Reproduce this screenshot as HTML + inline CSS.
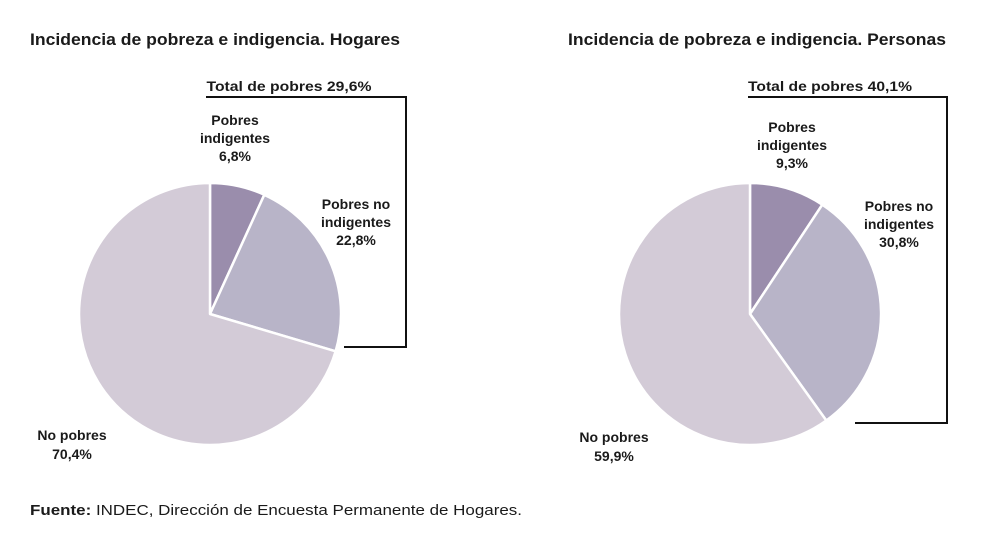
<!DOCTYPE html>
<html><head><meta charset="utf-8"><style>
body{margin:0;background:#fff;width:992px;height:543px;overflow:hidden}
svg text{font-family:"Liberation Sans",sans-serif;fill:#1a1a1a}
</style></head><body>
<svg width="992" height="543" viewBox="0 0 992 543" xmlns="http://www.w3.org/2000/svg">
<g font-weight="bold">
<text x="30" y="45" font-size="17" textLength="370" lengthAdjust="spacingAndGlyphs">Incidencia de pobreza e indigencia. Hogares</text>
<text x="568" y="45" font-size="17" textLength="378" lengthAdjust="spacingAndGlyphs">Incidencia de pobreza e indigencia. Personas</text>
</g>
<g stroke="#fff" stroke-width="2.5" stroke-linejoin="round">
<path d="M210,314 L210,183 A131,131 0 0 1 264.3,194.8 Z" fill="#9a8dac"/>
<path d="M210,314 L264.3,194.8 A131,131 0 0 1 335.6,351.3 Z" fill="#b8b4c8"/>
<path d="M210,314 L335.6,351.3 A131,131 0 1 1 210,183 Z" fill="#d3cbd7"/>
<path d="M750,314 L750,183 A131,131 0 0 1 822.3,204.7 Z" fill="#9a8dac"/>
<path d="M750,314 L822.3,204.7 A131,131 0 0 1 826.3,420.5 Z" fill="#b8b4c8"/>
<path d="M750,314 L826.3,420.5 A131,131 0 1 1 750,183 Z" fill="#d3cbd7"/>
</g>
<g fill="none" stroke="#111" stroke-width="2">
<polyline points="206,97 406,97 406,347 344,347"/>
<polyline points="748,97 947,97 947,423 855,423"/>
</g>
<g font-weight="bold" font-size="14" text-anchor="middle">
<text x="289" y="91" textLength="165" lengthAdjust="spacingAndGlyphs">Total de pobres 29,6%</text>
<text x="235" y="125">Pobres</text><text x="235" y="143">indigentes</text><text x="235" y="161">6,8%</text>
<text x="356" y="209">Pobres no</text><text x="356" y="227">indigentes</text><text x="356" y="245">22,8%</text>
<text x="72" y="440">No pobres</text><text x="72" y="459">70,4%</text>
<text x="830" y="91" textLength="164" lengthAdjust="spacingAndGlyphs">Total de pobres 40,1%</text>
<text x="792" y="132">Pobres</text><text x="792" y="150">indigentes</text><text x="792" y="168">9,3%</text>
<text x="899" y="211">Pobres no</text><text x="899" y="229">indigentes</text><text x="899" y="247">30,8%</text>
<text x="614" y="442">No pobres</text><text x="614" y="461">59,9%</text>
</g>
<text x="30" y="515" font-size="15" textLength="492" lengthAdjust="spacingAndGlyphs"><tspan font-weight="bold">Fuente:</tspan> INDEC, Dirección de Encuesta Permanente de Hogares.</text>
</svg>
</body></html>
